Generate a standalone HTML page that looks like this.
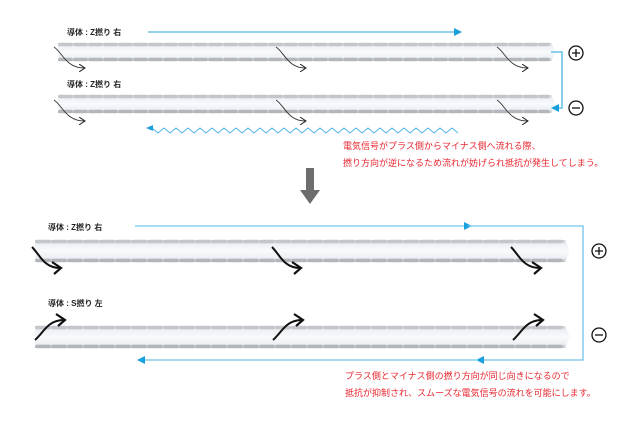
<!DOCTYPE html>
<html><head><meta charset="utf-8"><style>
body{margin:0;background:#fff;width:640px;height:426px;overflow:hidden}
svg{display:block}
text{font-family:"Liberation Sans","Noto Sans CJK JP",sans-serif}
</style></head><body>
<svg width="640" height="426" viewBox="0 0 640 426" xmlns="http://www.w3.org/2000/svg">
<defs>
<linearGradient id="cg" x1="0" y1="0" x2="0" y2="1">
<stop offset="0" stop-color="#c8ccd1"/>
<stop offset="0.2" stop-color="#eef1f5"/>
<stop offset="0.5" stop-color="#f8fafc"/>
<stop offset="0.8" stop-color="#edf1f5"/>
<stop offset="1" stop-color="#bcc0c5"/>
</linearGradient>
<marker id="ab" markerWidth="8" markerHeight="8" refX="6" refY="4" orient="auto" markerUnits="userSpaceOnUse"><path d="M0,0 L8,4 L0,8z" fill="#1aa0dc"/></marker>
<marker id="ak" markerWidth="8" markerHeight="8" refX="5" refY="4" orient="auto" markerUnits="userSpaceOnUse"><path d="M0,0 L6,4 L0,8" fill="none" stroke="#222" stroke-width="1"/></marker>
<marker id="ak2" markerWidth="14" markerHeight="14" refX="9" refY="7" orient="auto" markerUnits="userSpaceOnUse"><path d="M1,1 L10,7 L3,13" fill="none" stroke="#111" stroke-width="2.2"/></marker>
<g id="cable">
<path d="M0,0 H493 L498,9 L493,18 H0 Z" fill="url(#cg)"/>
<line x1="2" y1="1.5" x2="490" y2="1.5" stroke="#c3c6cb" stroke-width="3.5" stroke-dasharray="11 4" stroke-linecap="round"/>
<line x1="2" y1="16.5" x2="490" y2="16.5" stroke="#b3b7bc" stroke-width="3.5" stroke-dasharray="11 4" stroke-linecap="round"/>
</g>
<g id="cableB">
<path d="M0,0 H530 L535,11 L530,22 H0 Z" fill="url(#cg)"/>
<line x1="2" y1="1.5" x2="528" y2="1.5" stroke="#c3c6cb" stroke-width="3.5" stroke-dasharray="12 4" stroke-linecap="round"/>
<line x1="2" y1="20.5" x2="528" y2="20.5" stroke="#b3b7bc" stroke-width="3.5" stroke-dasharray="12 4" stroke-linecap="round"/>
</g>
</defs>

<text x="67" y="35" font-size="8" font-weight="bold" fill="#222">導体 : Z撚り 右</text>
<line x1="148" y1="32" x2="460" y2="32" stroke="#6fc4ea" stroke-width="1.5" marker-end="url(#ab)"/>
<use href="#cable" x="58" y="43"/>
<text x="67" y="87" font-size="8" font-weight="bold" fill="#222">導体 : Z撚り 右</text>
<use href="#cable" x="58" y="95"/>
<g fill="none" stroke="#333" stroke-width="0.9">
<path d="M54,47 C62,52 66,68 84,68" marker-end="url(#ak)"/>
<path d="M276,47 C284,52 288,68 305,68" marker-end="url(#ak)"/>
<path d="M497,47 C505,52 509,68 527,68" marker-end="url(#ak)"/>
<path d="M54,100 C62,105 66,121 84,121" marker-end="url(#ak)"/>
<path d="M276,100 C284,105 288,121 305,121" marker-end="url(#ak)"/>
<path d="M497,100 C505,105 509,121 527,121" marker-end="url(#ak)"/>
</g>
<path d="M551,52 H562 V108 H553" fill="none" stroke="#4cb4e4" stroke-width="1.3" marker-end="url(#ab)"/>
<circle cx="576" cy="53" r="7" fill="none" stroke="#111" stroke-width="1.3"/>
<path d="M572,53 H580 M576,49 V57" stroke="#111" stroke-width="1.3"/>
<circle cx="576" cy="108" r="7" fill="none" stroke="#111" stroke-width="1.3"/>
<path d="M572,108 H580" stroke="#111" stroke-width="1.3"/>
<polyline fill="none" stroke="#4cb4e4" stroke-width="1" points="152,128 158,133 164,128 170,133 176,128 182,133 188,128 194,133 200,128 206,133 212,128 218,133 224,128 230,133 236,128 242,133 248,128 254,133 260,128 266,133 272,128 278,133 284,128 290,133 296,128 302,133 308,128 314,133 320,128 326,133 332,128 338,133 344,128 350,133 356,128 362,133 368,128 374,133 380,128 386,133 392,128 398,133 404,128 410,133 416,128 422,133 428,128 434,133 440,128 446,133 452,128 458,133"/>
<path d="M146,128 L153,125 L153,131z" fill="#1aa0dc"/>
<text x="343" y="149" font-size="9" fill="#e8262f">電気信号がプラス側からマイナス側へ流れる際、</text>
<text x="343" y="166" font-size="9" fill="#e8262f">撚り方向が逆になるため流れが妨げられ抵抗が発生してしまう。</text>

<path d="M306,168 H314 V190 H320 L310,204 L300,190 H306 Z" fill="#6d6d6d"/>

<text x="48" y="230" font-size="8" font-weight="bold" fill="#222">導体 : Z撚り 右</text>
<line x1="135" y1="226" x2="470" y2="226" stroke="#6fc4ea" stroke-width="1.3" marker-end="url(#ab)"/>
<path d="M468,226 H583 V360 H478" fill="none" stroke="#6fc4ea" stroke-width="1.3" marker-end="url(#ab)"/>
<line x1="478" y1="360" x2="139" y2="360" stroke="#6fc4ea" stroke-width="1.3" marker-end="url(#ab)"/>
<use href="#cableB" x="35" y="240"/>
<text x="48" y="306" font-size="8" font-weight="bold" fill="#222">導体 : S撚り 左</text>
<use href="#cableB" x="35" y="326"/>
<g fill="none" stroke="#111" stroke-width="2">
<path d="M32,247 C40,255 44,268 60,268" marker-end="url(#ak2)"/>
<path d="M272,247 C280,255 284,268 300,268" marker-end="url(#ak2)"/>
<path d="M511,247 C519,255 523,268 540,268" marker-end="url(#ak2)"/>
<path d="M35,340 C44,332 48,320 64,320" marker-end="url(#ak2)"/>
<path d="M273,340 C282,332 286,320 302,320" marker-end="url(#ak2)"/>
<path d="M513,340 C522,332 526,320 542,320" marker-end="url(#ak2)"/>
</g>
<circle cx="599" cy="251" r="7" fill="none" stroke="#111" stroke-width="1.3"/>
<path d="M595,251 H603 M599,247 V255" stroke="#111" stroke-width="1.3"/>
<circle cx="599" cy="335" r="7" fill="none" stroke="#111" stroke-width="1.3"/>
<path d="M595,335 H603" stroke="#111" stroke-width="1.3"/>
<text x="345" y="379" font-size="9" fill="#e8262f">プラス側とマイナス側の撚り方向が同じ向きになるので</text>
<text x="345" y="396" font-size="9" fill="#e8262f">抵抗が抑制され、スムーズな電気信号の流れを可能にします。</text>
</svg>
</body></html>
